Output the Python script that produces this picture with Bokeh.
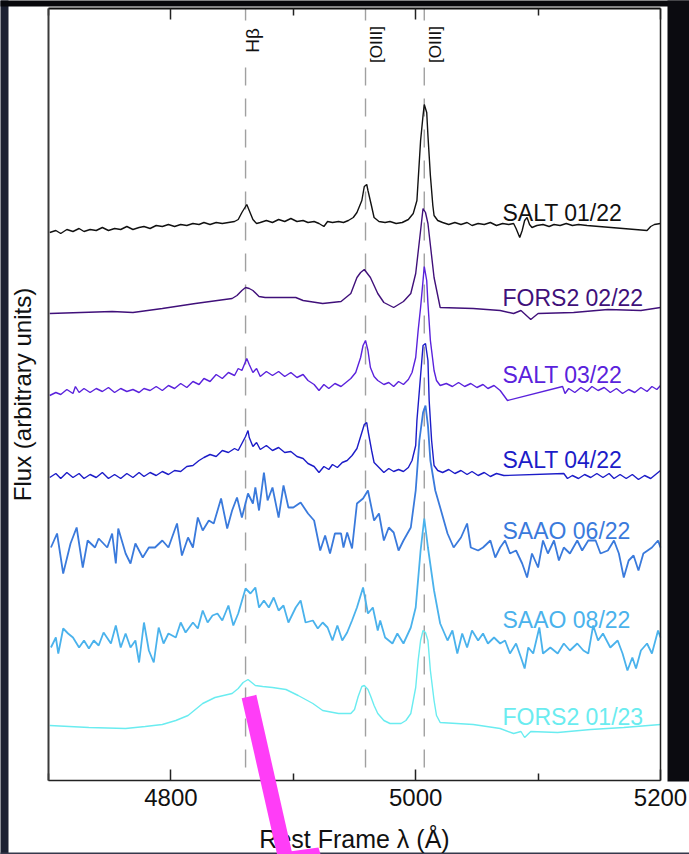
import numpy as np
from bokeh.plotting import figure
from bokeh.models import Range1d, FixedTicker, LinearAxis, ColumnDataSource
from bokeh.core.properties import value
from bokeh.embed import file_html
from bokeh.resources import INLINE

# ---------------- data ----------------
names = ["SALT 01/22", "FORS2 02/22", "SALT 03/22", "SALT 04/22",
         "SAAO 06/22", "SAAO 08/22", "FORS2 01/23"]
colors = ["#111111", "#40107a", "#5a22dc", "#1c1cc8", "#3a7adc", "#4ab2ec", "#6aecf0"]
offsets = [550, 470, 390, 305, 235, 140, 55]

wave_salt_0122 = [4701,4706,4710,4715,4720,4725,4729,4734,4739,4744,4749,4754,4759,4764,4769,4774,4778,4783,4788,4793,
                  4798,4803,4808,4813,4818,4823,4827,4832,4837,4842,4847,4852,4855,4858,4862,4864,4867,4870,4873,4878,
                  4883,4888,4893,4898,4903,4908,4912,4917,4921,4925,4928,4932,4937,4941,4945,4949,4952,4956,4958,4960,
                  4961,4964,4966,4970,4975,4979,4984,4989,4994,4998,5001,5002,5004,5006,5007,5009,5010,5012,5014,5015,
                  5018,5022,5027,5032,5037,5042,5046,5051,5056,5061,5066,5071,5076,5080,5082,5085,5087,5089,5091,5093,
                  5095,5099,5104,5109,5113,5118,5123,5128,5133,5140,5189,5192,5195,5200]
flux_salt_0122 = [-2,0,-3,1,-1,2,-1,1,0,3, 0,2,1,4,1,3,4,2,5,4, 6,4,6,5,7,6,8,6,8,7, 8,9,11,18,26,20,11,7,8,10,
                  8,11,9,12,9,10,8,9,7,4, 9,8,9,8,10,13,18,30,44,46, 40,24,13,9,8,9,7,8,11,17,
                  30,50,90,115,126,118,95,55,25,15, 10,8,6,8,6,8,5,7,6,8, 5,7,6,7,2,-7,0,10,13,6,
                  3,5,6,4,6,5,7,5,6,5, 0,4,6,7]

wave_fors2_0222 = [4701,4752,4769,4793,4820,4850,4854,4858,4861,4864,4867,4872,4877,4902,4908,4924,4939,4947,4952,4955,
                   4958,4963,4969,4974,4982,4990,4996,5000,5004,5006,5008,5010,5015,5020,5047,5069,5080,5086,5094,5100,
                   5129,5157,5184,5200]
flux_fors2_0222 = [-3,-1,-2,2,7,12,15,20,23,22, 20,14,13,13,10,7,9,17,33,38,
                   41,33,17,8,3,9,17,37,80,102,98,87,33,3,2,0,-3,0,-9,-3,
                   -2,1,0,3]

wave_salt_0322 = [4701,4706,4710,4715,4720,4722,4725,4729,4734,4739,4744,4749,4754,4759,4764,4769,4774,4778,4783,4788,
                  4793,4798,4803,4808,4813,4818,4823,4827,4832,4837,4842,4847,4852,4855,4858,4862,4864,4867,4870,4873,
                  4878,4883,4888,4893,4898,4903,4908,4912,4917,4921,4925,4929,4934,4939,4943,4947,4951,4955,4957,4959,
                  4961,4963,4966,4969,4974,4978,4982,4986,4990,4994,4997,5000,5002,5004,5006,5007,5009,5010,5012,5015,
                  5017,5020,5025,5030,5035,5040,5045,5050,5055,5059,5064,5069,5075,5120,5122,5125,5130,5135,5140,5144,
                  5149,5154,5159,5164,5169,5174,5179,5184,5189,5193,5197,5200]
flux_salt_0322 = [-5,-2,-4,1,-3,4,-2,2,-2,2, -1,3,-2,2,-1,1,-2,2,0,4, 0,5,2,7,3,9,6,12,9,16,
                  12,18,15,22,20,32,26,18,22,14, 19,15,19,14,18,13,16,10,6,0, 6,2,7,4,8,12,18,33,45,50,
                  40,23,14,10,6,8,4,9,6,11, 18,33,60,83,110,124,110,87,50,20, 10,5,7,4,8,4,7,3,6,2,
                  5,0,-10,4,-3,2,-2,3,-1,4, 0,3,-2,2,-3,1,-2,3,-1,4, 1,5]

wave_salt_0422 = [4701,4706,4710,4715,4720,4725,4729,4734,4739,4744,4749,4754,4759,4764,4769,4774,4778,4783,4788,4793,
                  4798,4803,4808,4813,4818,4823,4827,4832,4837,4842,4847,4852,4855,4858,4861,4863,4864,4867,4870,4873,
                  4878,4883,4888,4893,4898,4903,4908,4912,4917,4921,4925,4929,4932,4936,4940,4944,4948,4952,4956,4958,
                  4960,4961,4964,4966,4970,4974,4978,4982,4986,4990,4994,4997,5000,5001,5003,5005,5006,5008,5010,5011,
                  5013,5015,5018,5022,5027,5032,5037,5042,5046,5051,5056,5061,5066,5072,5121,5124,5128,5133,5138,5143,
                  5148,5153,5158,5162,5167,5172,5177,5182,5187,5192,5196,5200]
flux_salt_0422 = [-2,2,-3,3,-2,2,-3,1,-2,3, -3,1,-3,2,-2,3,-1,3,0,4, 1,5,4,9,10,15,18,21,19,25,
                  23,27,25,32,39,45,38,29,33,26, 30,25,28,23,24,19,17,12,9,3, 9,6,11,8,13,15,20,27,43,51,
                  53,45,25,13,8,3,7,4,6,4, 8,15,30,55,85,115,130,132,115,75, 35,10,5,3,6,2,5,1,4,0,
                  3,-1,2,0,2,-3,0,-3,1,-2, 2,-2,2,-3,1,-3,1,-4,0,-3, 1,5]

wave_saao_0622 = [4702,4707,4712,4718,4723,4728,4732,4738,4741,4748,4752,4755,4757,4763,4767,4771,4777,4782,4787,4793,
                  4798,4805,4809,4814,4818,4822,4826,4831,4835,4841,4846,4850,4854,4858,4863,4867,4869,4872,4876,4879,
                  4883,4888,4892,4896,4900,4906,4912,4917,4922,4926,4930,4934,4939,4941,4944,4948,4952,4957,4961,4966,
                  4970,4974,4978,4982,4986,4990,4996,5000,5003,5006,5008,5010,5012,5016,5020,5026,5031,5037,5042,5045,
                  5051,5055,5061,5065,5069,5073,5077,5082,5087,5091,5095,5100,5104,5108,5113,5117,5121,5126,5132,5136,
                  5141,5147,5151,5157,5162,5166,5170,5174,5178,5182,5186,5193,5198,5200]
flux_saao_0622 = [-2,12,-28,2,18,-22,5,-2,7,-2, 12,-18,17,-8,-18,2,-12,-2,-2,5, -2,22,-10,8,-2,28,15,25,22,47,
                  17,35,48,28,52,42,58,35,73,45, 58,28,60,38,38,43,32,25,-5,10, -8,12,12,-2,13,-3,42,47,55,25,
                  32,5,18,13,-5,5,18,55,105,133, 140,120,85,55,38,12,-2,8,22,-2, -5,-2,5,-12,-2,5,-8,-5,-18,-32,
                  -8,-22,5,-8,5,-15,-2,-8,5,-5, 5,5,-8,-5,5,-8,-32,-15,-10,-25, -8,-2,5,-2]

wave_saao_0822 = [4702,4706,4708,4712,4716,4720,4725,4729,4733,4737,4741,4745,4751,4755,4759,4763,4767,4771,4774,4778,
                  4782,4786,4790,4794,4798,4804,4808,4812,4818,4822,4826,4830,4834,4838,4842,4847,4851,4855,4861,4865,
                  4869,4872,4876,4880,4884,4888,4892,4896,4902,4906,4910,4916,4920,4924,4928,4932,4936,4940,4944,4948,
                  4952,4957,4961,4965,4969,4971,4975,4981,4985,4990,4996,5000,5004,5007,5010,5015,5020,5026,5030,5034,
                  5038,5042,5046,5051,5055,5059,5064,5069,5073,5077,5082,5086,5089,5092,5096,5101,5104,5110,5116,5121,
                  5126,5132,5137,5141,5145,5149,5153,5159,5165,5169,5173,5177,5180,5184,5189,5193,5198,5200]
flux_saao_0822 = [-7,3,-13,12,7,3,-7,0,-8,0, -5,8,-3,15,-7,7,-7,0,-22,18, -10,-22,13,-3,7,3,18,8,18,12,
                  30,18,25,27,20,35,15,27,52,47, 53,33,40,33,43,30,35,18,33,40, 18,20,12,18,13,0,15,0,8,20,
                  33,53,27,33,10,20,3,-3,7,-3, 13,33,90,122,93,50,17,0,10,-13, 7,-7,10,0,7,-3,3,-3,0,-13,
                  -3,-17,-28,-7,-13,13,-13,-7,-13,-3, -10,-3,-10,-13,15,0,7,-7,0,-13, -30,-17,-28,-10,-3,-13,10,3]

wave_fors2_0123 = [4701,4733,4763,4779,4793,4804,4814,4826,4836,4850,4855,4859,4863,4866,4869,4875,4883,4894,4904,4916,
                   4924,4937,4947,4950,4953,4956,4958,4961,4963,4966,4969,4974,4979,4988,4992,4996,4998,5000,5002,5004,
                   5006,5008,5010,5012,5015,5017,5020,5047,5069,5080,5086,5089,5094,5116,5143,5170,5200]
flux_fors2_0123 = [0,-2,-3,-1,1,5,10,22,28,32, 37,43,46,43,40,39,38,36,30,22,
                   15,12,12,16,29,39,40,36,30,20, 12,5,2,2,5,12,25,38,65,85,
                   95,93,85,55,25,10,3,1,-3,-8, -6,-12,-6,-7,-4,-2,1]

line_names = ["H\u03b2", "[OIII]", "[OIII]"]
line_waves = [4861, 4959, 5007]
x_major_ticks = [4800, 5000, 5200]
x_minor_ticks = [4700, 4900, 5100]
x_bounds = (4700, 5200)
y_bounds = (0, 772)

waves = [wave_salt_0122, wave_fors2_0222, wave_salt_0322, wave_salt_0422,
         wave_saao_0622, wave_saao_0822, wave_fors2_0123]
fluxes = [flux_salt_0122, flux_fors2_0222, flux_salt_0322, flux_salt_0422,
          flux_saao_0622, flux_saao_0822, flux_fors2_0123]

# ---------------- layout / style ----------------
FONT = "Liberation Sans"
W, H = 689, 854
BOX_L, BOX_R, BOX_T, BOX_B = 48, 660, 8, 780          # plot box in canvas pixels
SX = (BOX_R - BOX_L) / (x_bounds[1] - x_bounds[0])    # px per Angstrom
SY = (BOX_B - BOX_T) / (y_bounds[1] - y_bounds[0])    # px per flux unit

x_range = Range1d(x_bounds[0] - BOX_L / SX, x_bounds[1] + (W - BOX_R) / SX)
y_range = Range1d(y_bounds[0] - (H - BOX_B) / SY, y_bounds[1] + BOX_T / SY)

def cx(px):
    return x_range.start + px / SX

def cy(py):
    return y_range.end - py / SY

p = figure(width=W, height=H, x_range=x_range, y_range=y_range, title=None,
           output_backend="svg", toolbar_location=None, min_border=0,
           background_fill_color="white", border_fill_color="white",
           outline_line_color=None)
p.xgrid.visible = False
p.ygrid.visible = False

# surrounding slide background strips (drawn under everything)
strips = dict(left=[cx(-5), cx(-5), cx(667), cx(-5)],
              right=[cx(8), cx(700), cx(700), cx(700)],
              top=[cy(-5), cy(-5), cy(-5), cy(852)],
              bottom=[cy(860), cy(6), cy(781), cy(860)],
              c=["#1c2031", "#08080c", "#0b0b10", "#35384b"])
p.quad(left="left", right="right", top="top", bottom="bottom", fill_color="c",
       line_color=None, source=ColumnDataSource(strips), level="underlay")

# bottom axis
xa = p.xaxis[0]
xa.fixed_location = y_bounds[0]
xa.bounds = x_bounds
xa.ticker = FixedTicker(ticks=x_major_ticks, minor_ticks=x_minor_ticks)
xa.major_tick_in = 11
xa.major_tick_out = 0
xa.minor_tick_in = 7
xa.minor_tick_out = 0
xa.major_tick_line_color = "#222222"
xa.minor_tick_line_color = "#222222"
xa.major_tick_line_width = 1.5
xa.minor_tick_line_width = 1.5
xa.axis_line_color = "#222222"
xa.axis_line_width = 1.6
xa.major_label_text_font = FONT
xa.major_label_text_font_size = "24px"
xa.major_label_text_color = "#111111"
xa.major_label_standoff = 8
xa.axis_label = "Rest Frame \u03bb (\u00c5)"
xa.axis_label_text_font = FONT
xa.axis_label_text_font_size = "25px"
xa.axis_label_text_font_style = "normal"
xa.axis_label_text_color = "#111111"
xa.axis_label_standoff = 16

# top axis (ticks only)
ta = LinearAxis(fixed_location=y_bounds[1], bounds=x_bounds,
                ticker=FixedTicker(ticks=x_major_ticks, minor_ticks=x_minor_ticks),
                major_tick_in=11, major_tick_out=0, minor_tick_in=7, minor_tick_out=0,
                major_tick_line_color="#222222", minor_tick_line_color="#222222",
                major_tick_line_width=1.5, minor_tick_line_width=1.5,
                axis_line_color="#111111", axis_line_width=2,
                major_label_text_font_size="0px", major_label_standoff=0,
                major_label_overrides={4800: "", 5000: "", 5200: ""})
p.add_layout(ta, "above")

# left axis (line + title only)
ya = p.yaxis[0]
ya.fixed_location = x_bounds[0]
ya.bounds = y_bounds
ya.ticker = FixedTicker(ticks=[])
ya.major_tick_line_color = None
ya.minor_tick_line_color = None
ya.major_label_text_font_size = "0px"
ya.major_label_standoff = 0
ya.axis_line_color = "#3a3a3a"
ya.axis_line_width = 2
ya.axis_label = "Flux (arbitrary units)"
ya.axis_label_text_font = FONT
ya.axis_label_text_font_size = "24px"
ya.axis_label_text_font_style = "normal"
ya.axis_label_text_color = "#111111"
ya.axis_label_standoff = 13

# right axis (frame line only)
ra = LinearAxis(fixed_location=x_bounds[1], bounds=y_bounds, ticker=FixedTicker(ticks=[]),
                major_tick_line_color=None, minor_tick_line_color=None,
                major_label_text_font_size="0px", axis_line_color="#222222", axis_line_width=1.5)
p.add_layout(ra, "right")

# emission-line markers (dashed verticals)
p.segment(x0=line_waves, y0=[cy(BOX_T)] * 3, x1=line_waves, y1=[cy(20)] * 3,
          line_color="#a0a0a0", line_width=1.4)
p.segment(x0=line_waves, y0=[cy(67)] * 3, x1=line_waves, y1=[y_bounds[0]] * 3,
          line_color="#a0a0a0", line_width=1.4, line_dash="18 13")
lsrc = ColumnDataSource(dict(x=line_waves, y=[cy(40), cy(44), cy(44)], t=line_names,
                             xo=[7, 11, 11], fs=["19px", "17px", "17px"]))
p.text(x="x", y="y", text="t", x_offset="xo", angle=np.pi / 2, source=lsrc,
       text_align="center", text_baseline="middle", text_font=value(FONT),
       text_font_size="fs", text_color="#111111")

# spectra
for wv, fl, off, col in zip(waves, fluxes, offsets, colors):
    lw = 1.8 if col in ("#3a7adc", "#4ab2ec") else 1.4
    p.line(wv, [f + off for f in fl], line_color=col, line_width=lw)

# spectrum labels
label_y = [cy(212), cy(297), cy(374), cy(459), cy(530), cy(619), cy(716)]
tsrc = ColumnDataSource(dict(x=[cx(502)] * 7, y=label_y, t=names, c=colors))
p.text(x="x", y="y", text="t", text_color="c", source=tsrc, text_align="left",
       text_baseline="alphabetic", text_font=value(FONT), text_font_size="23px")

# magenta annotation stroke (on top of everything)
MAG = "#ff3df7"
p.line([cx(248.5), cx(287)], [cy(696), cy(866)], line_color=MAG, line_width=15,
       line_cap="butt", level="overlay")
p.patch([cx(283), cx(289), cx(318), cx(321)], [cy(857), cy(851), cy(847), cy(857)],
        fill_color=MAG, line_color=None, level="overlay")

open("out.html", "w").write(file_html(p, INLINE))
